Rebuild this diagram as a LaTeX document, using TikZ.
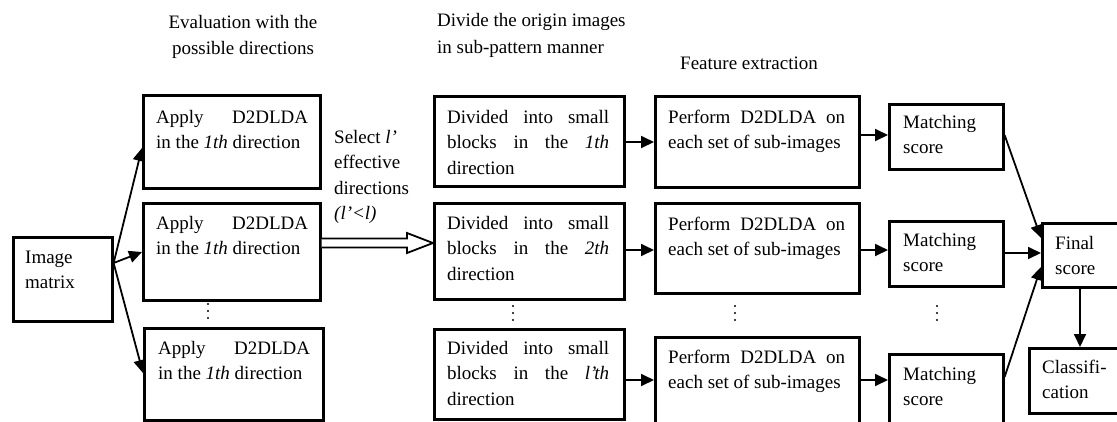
\documentclass[tikz,border=0pt]{standalone}
\usepackage{fontspec}
\setmainfont{Liberation Serif}
\usetikzlibrary{arrows.meta,calc}
\newcommand{\jl}[2]{\makebox[#1][s]{#2}}
\begin{document}
\begin{tikzpicture}[x=1pt,y=-1pt,
  box/.style={draw,line width=2.6pt,inner sep=0pt,anchor=north west},
  txt/.style={inner sep=0pt,anchor=base west,font=\fontsize{19}{25.5}\selectfont},
  ttl/.style={inner sep=0pt,anchor=base,font=\fontsize{19}{25.5}\selectfont},
  arr/.style={line width=1.8pt,-{Triangle[length=13pt,width=12pt]}},
  dts/.style={inner sep=0pt,minimum size=0pt}]
\useasboundingbox (0,0) rectangle (1117,421);
\clip (0,0) rectangle (1117,421);
% titles
\node[ttl,align=center] (t1) at (243,54) {Evaluation with the\\possible directions};
\node[txt,align=left] (t2) at (437,26) {\parbox[t]{220pt}{Divide the origin images\\[1.5pt]in sub-pattern manner}};
\node[txt] (t3) at (680,69) {Feature extraction};
% image matrix
\node[box,minimum width=99pt,minimum height=84pt] (im) at (12,236) {};
\node[txt] (imt) at (25,263) {\parbox[t]{80pt}{Image\\matrix}};
% apply boxes
\node[box,minimum width=177pt,minimum height=93pt] (a1) at (142,94) {};
\node[box,minimum width=177pt,minimum height=97pt] (a2) at (142,202) {};
\node[box,minimum width=179pt,minimum height=92pt] (a3) at (143,327) {};
\node[txt] (a1t) at (156,123) {\parbox[t]{152pt}{\jl{152pt}{Apply D2DLDA}\\in the \textit{1th} direction}};
\node[txt] (a2t) at (156,229) {\parbox[t]{152pt}{\jl{152pt}{Apply D2DLDA}\\in the \textit{1th} direction}};
\node[txt] (a3t) at (158,354) {\parbox[t]{152pt}{\jl{152pt}{Apply D2DLDA}\\in the \textit{1th} direction}};
% select text
\node[txt] (sel) at (334,143) {\parbox[t]{90pt}{Select \textit{l’}\\effective\\directions\\\textit{(l’<l)}}};
% divided boxes
\node[box,minimum width=190pt,minimum height=90pt] (d1) at (433,95) {};
\node[box,minimum width=190pt,minimum height=96pt] (d2) at (433,202) {};
\node[box,minimum width=190pt,minimum height=90pt] (d3) at (433,328) {};
\node[txt] (d1t) at (447,123) {\parbox[t]{162pt}{\jl{162pt}{Divided into small}\\\jl{162pt}{blocks in the \textit{1th}}\\direction}};
\node[txt] (d2t) at (447,229) {\parbox[t]{162pt}{\jl{162pt}{Divided into small}\\\jl{162pt}{blocks in the \textit{2th}}\\direction}};
\node[txt] (d3t) at (447,354) {\parbox[t]{162pt}{\jl{162pt}{Divided into small}\\\jl{162pt}{blocks in the \textit{l’th}}\\direction}};
% perform boxes
\node[box,minimum width=204pt,minimum height=91pt] (p1) at (654,95) {};
\node[box,minimum width=204pt,minimum height=90pt] (p2) at (654,202) {};
\node[box,minimum width=204pt,minimum height=100pt] (p3) at (654,336) {};
\node[txt] (p1t) at (668,123) {\parbox[t]{177pt}{\jl{177pt}{Perform D2DLDA on}\\each set of sub-images}};
\node[txt] (p2t) at (668,230) {\parbox[t]{177pt}{\jl{177pt}{Perform D2DLDA on}\\each set of sub-images}};
\node[txt] (p3t) at (668,363) {\parbox[t]{177pt}{\jl{177pt}{Perform D2DLDA on}\\each set of sub-images}};
% matching boxes
\node[box,minimum width=114pt,minimum height=65pt] (m1) at (888,103) {};
\node[box,minimum width=114pt,minimum height=65pt] (m2) at (888,220) {};
\node[box,minimum width=114pt,minimum height=80pt] (m3) at (888,353) {};
\node[txt] (m1t) at (903,128) {\parbox[t]{95pt}{Matching\\score}};
\node[txt] (m2t) at (903,246) {\parbox[t]{95pt}{Matching\\score}};
\node[txt] (m3t) at (903,380) {\parbox[t]{95pt}{Matching\\score}};
% vertical ellipses
\foreach \x/\y in {208/304, 513/306, 735/306, 937/306}{
  \foreach \k in {0,7,14}{\fill (\x,\y+\k) circle (1.2pt);}
}
% final and classification
\node[box,minimum width=81pt,minimum height=64pt] (f) at (1041,222) {};
\node[txt] (ft) at (1055,249) {\parbox[t]{60pt}{Final\\score}};
\node[box,minimum width=94pt,minimum height=65pt] (c) at (1028,347) {};
\node[txt] (ct) at (1042,373) {\parbox[t]{75pt}{Classifi-\\cation}};
% connectors
\coordinate (imo) at (im.east |- 0,263);
\draw[arr] (imo) -- (a1.west |- 0,148);
\draw[arr] (imo) -- (a2.west |- 0,252);
\draw[arr] (imo) -- (a3.west |- 0,373);
% hollow arrow
\coordinate (hs) at (a2.east |- 0,243);
\coordinate (he) at (d2.west |- 0,243);
\draw[line width=1.8pt,fill=white,line join=miter]
  ($(hs)+(0pt,4.5pt)$) -- ($(he)+(-26pt,4.5pt)$) -- ($(he)+(-26pt,10pt)$) -- (he)
  -- ($(he)+(-26pt,-10pt)$) -- ($(he)+(-26pt,-4.5pt)$) -- ($(hs)+(0pt,-4.5pt)$);
\draw[arr] (d1.east |- 0,142) -- (p1.west |- 0,142);
\draw[arr] (d2.east |- 0,250) -- (p2.west |- 0,250);
\draw[arr] (d3.east |- 0,380) -- (p3.west |- 0,380);
\draw[arr] (p1.east |- 0,135) -- (m1.west |- 0,135);
\draw[arr] (p2.east |- 0,250) -- (m2.west |- 0,250);
\draw[arr] (p3.east |- 0,380) -- (m3.west |- 0,380);
\draw[arr] (m1.east |- 0,135) -- (f.west |- 0,238);
\draw[arr] (m2.east |- 0,253) -- (f.west |- 0,253);
\draw[arr] (m3.east |- 0,377) -- (f.west |- 0,267);
\draw[arr] (f.south -| 1080,0) -- (c.north -| 1080,0);
\end{tikzpicture}
\end{document}
